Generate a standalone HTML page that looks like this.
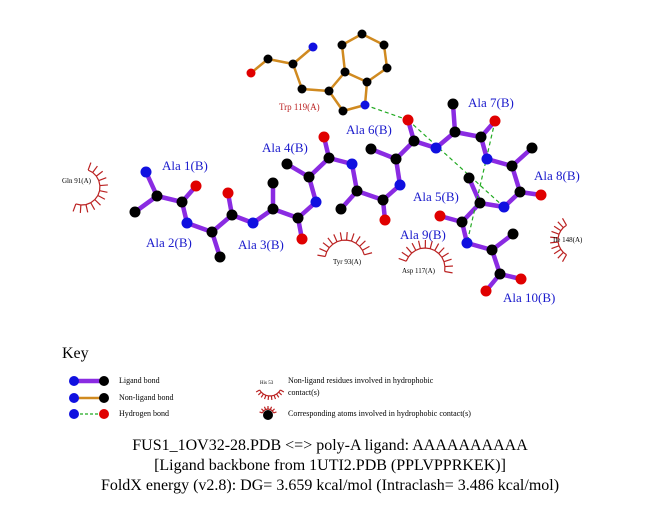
<!DOCTYPE html>
<html><head><meta charset="utf-8"><style>
html,body{margin:0;padding:0;background:#fff;}
svg{display:block;font-family:"Liberation Serif",serif;}
</style></head><body>
<svg id="s" width="651" height="511" viewBox="0 0 651 511" xmlns="http://www.w3.org/2000/svg">
<g id="arcs" stroke="#b22" stroke-width="1.2" fill="none"></g>
<g id="bonds"></g>
<g id="hb" stroke="#2a2" stroke-width="1.2" stroke-dasharray="4,3"></g>
<g id="atoms"></g>
<g fill="#1a1acc" font-size="13">
<text x="162" y="170">Ala 1(B)</text>
<text x="146" y="247">Ala 2(B)</text>
<text x="238" y="249">Ala 3(B)</text>
<text x="262" y="152">Ala 4(B)</text>
<text x="346" y="134">Ala 6(B)</text>
<text x="468" y="107">Ala 7(B)</text>
<text x="534" y="180">Ala 8(B)</text>
<text x="413" y="201">Ala 5(B)</text>
<text x="400" y="239">Ala 9(B)</text>
<text x="503" y="302">Ala 10(B)</text>
</g>
<text x="279" y="110" fill="#b22" font-size="9">Trp 119(A)</text>
<g font-size="7" fill="#000">
<text x="62" y="183">Gln 91(A)</text>
<text x="333" y="264">Tyr 93(A)</text>
<text x="402" y="273">Asp 117(A)</text>
<text x="553" y="242">Ile 148(A)</text>
</g>
<text x="62" y="358" font-size="16">Key</text>
<g font-size="8">
<text x="119" y="383">Ligand bond</text>
<text x="119" y="400">Non-ligand bond</text>
<text x="119" y="416">Hydrogen bond</text>
<text x="288" y="383">Non-ligand residues involved in hydrophobic</text>
<text x="288" y="395">contact(s)</text>
<text x="288" y="416">Corresponding atoms involved in hydrophobic contact(s)</text>
<text x="260" y="384" font-size="5">His 53</text>
</g>
<g font-size="16" text-anchor="middle">
<text x="330" y="450">FUS1_1OV32-28.PDB &lt;=&gt; poly-A ligand: AAAAAAAAAA</text>
<text x="330" y="470">[Ligand backbone from 1UTI2.PDB (PPLVPPRKEK)]</text>
<text x="330" y="490">FoldX energy (v2.8): DG= 3.659 kcal/mol (Intraclash= 3.486 kcal/mol)</text>
</g>
</svg>
<script>
var NS="http://www.w3.org/2000/svg";
function el(p,t,a){var e=document.createElementNS(NS,t);for(var k in a)e.setAttribute(k,a[k]);document.getElementById(p).appendChild(e);return e;}
var C={b:"#1010e0",k:"#000",r:"#e00000"};
var A={
o1:[251,73,'r'],t1:[268,59,'k'],t2:[293,64,'k'],tn:[313,47,'b'],t3:[302,89,'k'],t4:[329,91,'k'],t5:[345,72,'k'],t6:[342,45,'k'],t7:[362,34,'k'],t8:[384,45,'k'],t9:[387,68,'k'],t10:[367,82,'k'],tn2:[365,105,'b'],t11:[343,111,'k'],
n1:[146,172,'b'],a1:[157,196,'k'],b1:[135,212,'k'],c1:[182,202,'k'],O1:[196,186,'r'],
n2:[187,223,'b'],a2:[212,232,'k'],b2:[220,257,'k'],c2:[232,215,'k'],O2:[228,193,'r'],
n3:[253,223,'b'],a3:[273,209,'k'],b3:[273,183,'k'],c3:[298,218,'k'],O3:[302,239,'r'],
n4:[316,202,'b'],a4:[309,177,'k'],b4:[287,164,'k'],c4:[329,158,'k'],O4:[324,137,'r'],
n5:[352,164,'b'],a5:[357,191,'k'],b5:[341,209,'k'],c5:[383,200,'k'],O5:[385,220,'r'],
n6:[400,185,'b'],a6:[396,159,'k'],b6:[371,149,'k'],c6:[414,141,'k'],O6:[408,120,'r'],
n7:[436,148,'b'],a7:[455,132,'k'],b7:[453,104,'k'],c7:[481,137,'k'],O7:[495,121,'r'],
n8:[487,159,'b'],a8:[512,166,'k'],b8:[532,148,'k'],c8:[520,192,'k'],O8:[541,195,'r'],
n9:[504,207,'b'],a9:[480,203,'k'],b9:[469,178,'k'],c9:[462,222,'k'],O9:[440,216,'r'],
n10:[467,243,'b'],a10:[492,250,'k'],b10:[513,234,'k'],c10:[500,274,'k'],Oa:[521,279,'r'],Ob:[486,291,'r']};
var tb="o1-t1 t1-t2 t2-tn t2-t3 t3-t4 t4-t5 t5-t6 t6-t7 t7-t8 t8-t9 t9-t10 t10-t5 t10-tn2 tn2-t11 t11-t4".split(" ");
var lb="n1-a1 a1-b1 a1-c1 c1-O1 c1-n2 n2-a2 a2-b2 a2-c2 c2-O2 c2-n3 n3-a3 a3-b3 a3-c3 c3-O3 c3-n4 n4-a4 a4-b4 a4-c4 c4-O4 c4-n5 n5-a5 a5-b5 a5-c5 c5-O5 c5-n6 n6-a6 a6-b6 a6-c6 c6-O6 c6-n7 n7-a7 a7-b7 a7-c7 c7-O7 c7-n8 n8-a8 a8-b8 a8-c8 c8-O8 c8-n9 n9-a9 a9-b9 a9-c9 c9-O9 c9-n10 n10-a10 a10-b10 a10-c10 c10-Oa c10-Ob".split(" ");
function bond(s,col,w){var p=s.split("-"),a=A[p[0]],b=A[p[1]];el("bonds","line",{x1:a[0],y1:a[1],x2:b[0],y2:b[1],stroke:col,"stroke-width":w,"stroke-linecap":"round"});}
tb.forEach(function(s){bond(s,"#d08a20",2.5)});
lb.forEach(function(s){bond(s,"#8a2be2",4.5)});
[["tn2","O6"],["O6","n9"],["O7","n10"]].forEach(function(h){var a=A[h[0]],b=A[h[1]];el("hb","line",{x1:a[0],y1:a[1],x2:b[0],y2:b[1]});});
for(var k in A){var a=A[k];el("atoms","circle",{cx:a[0],cy:a[1],r:k[0]=='t'||k=='o1'?4.5:5.5,fill:C[a[2]]});}
function arc(cx,cy,r,a0,a1,n,L){L=L||8;var d="";for(var i=0;i<=n;i++){var t=(a0+(a1-a0)*i/n)*Math.PI/180,x=cx+r*Math.cos(t),y=cy+r*Math.sin(t);d+=(i?"L":"M")+x.toFixed(1)+" "+y.toFixed(1);}
el("arcs","path",{d:d});
for(var i=0;i<=n;i++){var t=(a0+(a1-a0)*i/n)*Math.PI/180;el("arcs","line",{x1:cx+r*Math.cos(t),y1:cy+r*Math.sin(t),x2:cx+(r+L)*Math.cos(t),y2:cy+(r+L)*Math.sin(t)});}}
arc(82,187,18,-70,110,11);
arc(345,260,20,190,345,11);
arc(425,268,20,200,370,12);
arc(575,240,17,120,240,9);
arc(270,384,12,30,150,9,4);
// key
function kb(y,col,w,c2,dash){if(dash)el("bonds","line",{x1:75,y1:y,x2:104,y2:y,stroke:"#2a2","stroke-width":1.2,"stroke-dasharray":"3,2"});else el("bonds","line",{x1:75,y1:y,x2:104,y2:y,stroke:col,"stroke-width":w});
el("atoms","circle",{cx:74,cy:y,r:5,fill:C.b});el("atoms","circle",{cx:104,cy:y,r:5,fill:c2});}
kb(381,"#8a2be2",4.5,C.k);kb(398,"#d08a20",2.5,C.k);kb(414,"",0,C.r,1);
el("atoms","circle",{cx:268,cy:415,r:5,fill:"#000"});
arc(268,415,6,200,340,6,3);
</script>
</body></html>
